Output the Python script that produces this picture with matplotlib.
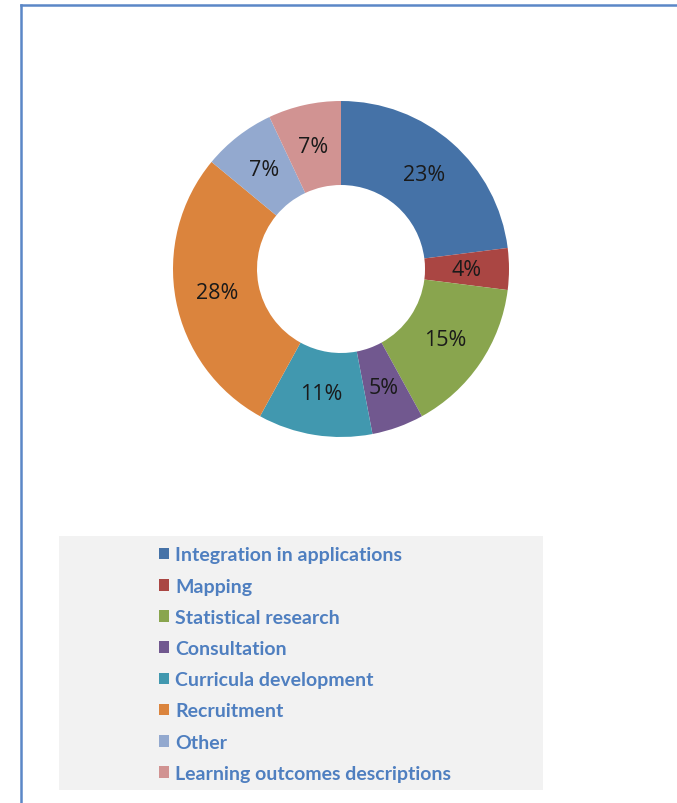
import matplotlib
matplotlib.use("Agg")
import matplotlib.pyplot as plt
from matplotlib.patches import Rectangle
from matplotlib.lines import Line2D

categories = ["Integration in applications", "Mapping", "Statistical research",
              "Consultation", "Curricula development", "Recruitment", "Other",
              "Learning outcomes descriptions"]
shares = [23, 4, 15, 5, 11, 28, 7, 7]
colors = ["#4572A7", "#AA4643", "#89A54E", "#71588F", "#4198AF", "#DB843D",
          "#93A9CF", "#D19392"]

W, H = 677, 804
fig = plt.figure(figsize=(W / 100, H / 100), dpi=100)
fig.patch.set_facecolor("white")

# frame lines (left and top only, the rest is cropped)
frame_color = "#5b87c7"
fig.add_artist(Line2D([20.5 / W, 20.5 / W], [0, 1 - 6 / H], transform=fig.transFigure,
                      color=frame_color, linewidth=1.8))
fig.add_artist(Line2D([20.5 / W, 1], [1 - 6 / H, 1 - 6 / H], transform=fig.transFigure,
                      color=frame_color, linewidth=1.8))

# donut
cx, cy, r = 341, 270, 168
ax = fig.add_axes([(cx - r) / W, (H - cy - r) / H, 2 * r / W, 2 * r / H])
wedges, texts, autotexts = ax.pie(
    shares, colors=colors, startangle=90, counterclock=False,
    radius=1, autopct="%d%%", pctdistance=0.75,
    wedgeprops=dict(width=0.5, edgecolor="none", linewidth=0),
    textprops=dict(fontsize=15.5, color="#1a1a1a", family="Open Sans"))
ax.set_xlim(-1, 1)
ax.set_ylim(-1, 1)
ax.set_aspect("equal")
ax.axis("off")

# legend background
fig.add_artist(Rectangle((59 / W, 1 - 791 / H), (543 - 59) / W, (791 - 537) / H,
                         transform=fig.transFigure, facecolor="#f2f2f2",
                         edgecolor="none", zorder=0))

leg = fig.legend(wedges, categories, loc="upper left",
                 bbox_to_anchor=(141 / W, 1 - 530 / H), frameon=False,
                 handlelength=0.55, handleheight=0.55, handletextpad=0.3,
                 labelspacing=0.73,
                 prop=dict(family="Lato", weight="bold", size=14))
for t in leg.get_texts():
    t.set_color("#4f7fc0")
for h in leg.legend_handles:
    h.set_edgecolor("none")

fig.savefig("out.png", dpi=100, facecolor="white")
